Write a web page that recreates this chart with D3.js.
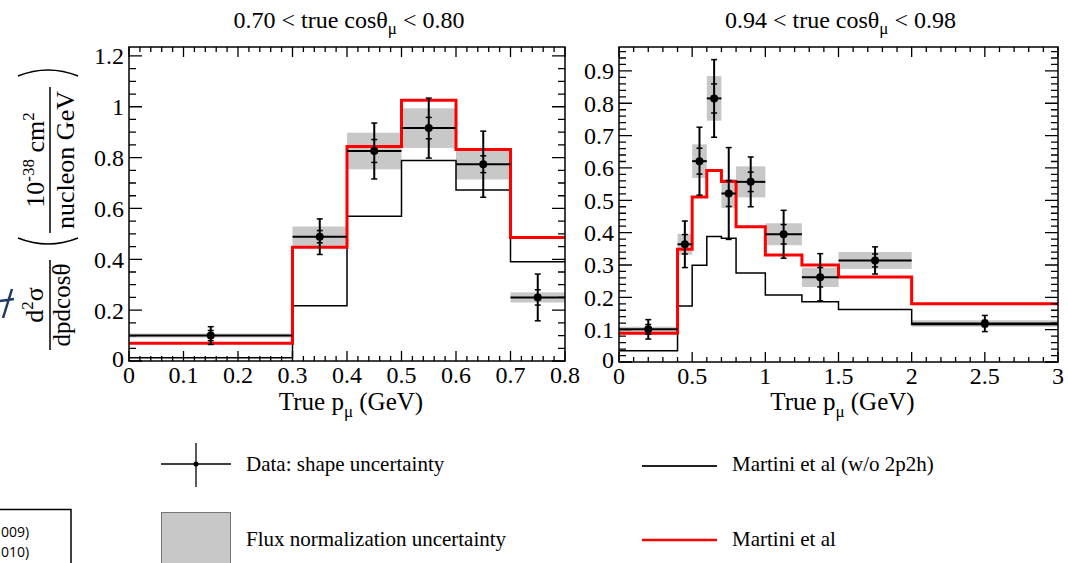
<!DOCTYPE html>
<meta charset="utf-8">
<style>
body { margin: 0; background: #fff; }
text { font-family: "Liberation Serif", "Times New Roman", serif; fill: #000; }
.frame { fill: none; stroke: #000; stroke-width: 1.5px; }
.tick { stroke: #000; stroke-width: 1.3px; }
.martini { fill: none; stroke: #ff0000; stroke-width: 3px; }
.no2p2h { fill: none; stroke: #000; stroke-width: 1.5px; }
.flux { fill: #c8c8c8; }
.err { stroke: #000; stroke-width: 2px; fill: none; }
</style>

<svg id="chart" width="1068" height="563"></svg>

<script src="https://d3js.org/d3.v7.min.js"></script>
<script>
// ---- left panel: 0.70 < cos < 0.80
var leftEdges    = [0, 0.3, 0.4, 0.5, 0.6, 0.7, 0.8];
var leftPoints   = [0.15, 0.35, 0.45, 0.55, 0.65, 0.75];
var leftData     = [0.100, 0.489, 0.826, 0.916, 0.774, 0.250];
var leftErr      = [0.035, 0.070, 0.110, 0.118, 0.130, 0.092];
var leftStatErr  = [0.020, 0.024, 0.045, 0.042, 0.033, 0.030];
var leftFlux     = [0.008, 0.040, 0.072, 0.078, 0.060, 0.020];
var leftMartini  = [0.070, 0.447, 0.844, 1.026, 0.832, 0.486];
var leftNo2p2h   = [0.013, 0.217, 0.569, 0.789, 0.673, 0.390];
var leftXTicks   = [0, 0.1, 0.2, 0.3, 0.4, 0.5, 0.6, 0.7, 0.8];
var leftYTicks   = [0, 0.2, 0.4, 0.6, 0.8, 1, 1.2];

// ---- right panel: 0.94 < cos < 0.98
var rightEdges   = [0, 0.4, 0.5, 0.6, 0.7, 0.8, 1.0, 1.25, 1.5, 2.0, 3.0];
var rightPoints  = [0.2, 0.45, 0.55, 0.65, 0.75, 0.9, 1.125, 1.375, 1.75, 2.5];
var rightData    = [0.101, 0.364, 0.621, 0.815, 0.521, 0.557, 0.395, 0.262, 0.314, 0.119];
var rightErr     = [0.030, 0.072, 0.105, 0.120, 0.142, 0.077, 0.074, 0.073, 0.042, 0.025];
var rightStatErr = [0.015, 0.030, 0.040, 0.045, 0.040, 0.030, 0.030, 0.030, 0.020, 0.010];
var rightFlux    = [0.008, 0.032, 0.052, 0.069, 0.045, 0.048, 0.034, 0.030, 0.026, 0.010];
var rightMartini = [0.089, 0.349, 0.510, 0.592, 0.558, 0.418, 0.331, 0.300, 0.263, 0.180];
var rightNo2p2h  = [0.035, 0.173, 0.299, 0.388, 0.383, 0.275, 0.207, 0.186, 0.162, 0.116];
var rightXTicks  = [0, 0.5, 1, 1.5, 2, 2.5, 3];
var rightYTicks  = [0, 0.1, 0.2, 0.3, 0.4, 0.5, 0.6, 0.7, 0.8, 0.9];

var legendItems = ["Data: shape uncertainty", "Flux normalization uncertainty",
                   "Martini et al (w/o 2p2h)", "Martini et al"];

var svg = d3.select("#chart");

var panels = [
  {id: "l", lo: "0.70", hi: "0.80", left: 129, right: 565, top: 47, bottom: 361,
   xDomain: [0, 0.8], yDomain: [0, 1.235], xMinor: 0.02, yMinor: 0.05,
   edges: leftEdges, points: leftPoints, data: leftData, err: leftErr, stat: leftStatErr,
   flux: leftFlux, martini: leftMartini, no2p2h: leftNo2p2h, xTicks: leftXTicks, yTicks: leftYTicks},
  {id: "r", lo: "0.94", hi: "0.98", left: 619, right: 1058, top: 47, bottom: 362,
   xDomain: [0, 3], yDomain: [0, 0.974], xMinor: 0.1, yMinor: 0.02,
   edges: rightEdges, points: rightPoints, data: rightData, err: rightErr, stat: rightStatErr,
   flux: rightFlux, martini: rightMartini, no2p2h: rightNo2p2h, xTicks: rightXTicks, yTicks: rightYTicks}
];

panels.forEach(drawPanel);

function drawPanel(p) {
  var x = d3.scaleLinear().domain(p.xDomain).range([p.left, p.right]),
      y = d3.scaleLinear().domain(p.yDomain).range([p.bottom, p.top]);

  var g = svg.append("g");

  g.append("clipPath").attr("id", "clip-" + p.id)
    .append("rect")
      .attr("x", p.left).attr("y", p.top)
      .attr("width", p.right - p.left).attr("height", p.bottom - p.top);

  var plot = g.append("g").attr("clip-path", "url(#clip-" + p.id + ")");

  var rows = p.points.map(function(c, i) {
    return {c: c, lo: p.edges[i], hi: p.edges[i + 1], v: p.data[i],
            err: p.err[i], stat: p.stat[i], flux: p.flux[i]};
  });

  // flux normalization bands
  plot.selectAll(".flux")
    .data(rows)
    .enter().append("rect")
      .attr("class", "flux")
      .attr("x", function(d) { return x(d.lo); })
      .attr("width", function(d) { return x(d.hi) - x(d.lo); })
      .attr("y", function(d) { return y(d.v + d.flux); })
      .attr("height", function(d) { return y(d.v - d.flux) - y(d.v + d.flux); });

  // model histograms
  var step = d3.line()
      .curve(d3.curveStepAfter)
      .x(function(d) { return x(d[0]); })
      .y(function(d) { return y(d[1]); });

  function histPoints(vals) {
    return p.edges.map(function(e, i) { return [e, vals[Math.min(i, vals.length - 1)]]; });
  }

  plot.append("path").attr("class", "no2p2h").attr("d", step(histPoints(p.no2p2h)));
  plot.append("path").attr("class", "martini").attr("d", step(histPoints(p.martini)));

  // data points with error bars
  var pts = plot.selectAll(".pt")
    .data(rows)
    .enter().append("g")
      .attr("class", "pt");

  pts.append("line").attr("class", "err")
      .attr("x1", function(d) { return x(d.lo); })
      .attr("x2", function(d) { return x(d.hi); })
      .attr("y1", function(d) { return y(d.v); })
      .attr("y2", function(d) { return y(d.v); });

  pts.append("line").attr("class", "err")
      .attr("x1", function(d) { return x(d.c); })
      .attr("x2", function(d) { return x(d.c); })
      .attr("y1", function(d) { return y(d.v - d.err); })
      .attr("y2", function(d) { return y(d.v + d.err); });

  // caps (outer = total, inner = stat)
  ["err", "stat"].forEach(function(k) {
    [-1, 1].forEach(function(s) {
      pts.append("line").attr("class", "err")
          .style("stroke-width", "1.5px")
          .attr("x1", function(d) { return x(d.c) - 3; })
          .attr("x2", function(d) { return x(d.c) + 3; })
          .attr("y1", function(d) { return y(d.v + s * d[k]); })
          .attr("y2", function(d) { return y(d.v + s * d[k]); });
    });
  });

  pts.append("circle")
      .attr("cx", function(d) { return x(d.c); })
      .attr("cy", function(d) { return y(d.v); })
      .attr("r", 4);

  // frame
  g.append("rect").attr("class", "frame")
      .attr("x", p.left).attr("y", p.top)
      .attr("width", p.right - p.left).attr("height", p.bottom - p.top);

  // inward ticks on all four sides
  var xMinor = d3.range(0, Math.round((p.xDomain[1] - p.xDomain[0]) / p.xMinor) + 1)
      .map(function(i) { return p.xDomain[0] + i * p.xMinor; });
  var yMinor = d3.range(0, Math.floor(p.yDomain[1] / p.yMinor + 1e-6) + 1)
      .map(function(i) { return i * p.yMinor; });

  function isMajor(v, list) {
    return list.some(function(t) { return Math.abs(t - v) < 1e-6; });
  }

  g.selectAll(".xt")
    .data(xMinor)
    .enter().append("path")
      .attr("class", "tick")
      .attr("d", function(d) {
        var L = isMajor(d, p.xTicks) ? 10 : 5, px = x(d);
        return "M" + px + "," + p.bottom + "v" + (-L) + "M" + px + "," + p.top + "v" + L;
      });

  g.selectAll(".yt")
    .data(yMinor.filter(function(d) { return y(d) >= p.top - 0.5 && y(d) <= p.bottom + 0.5; }))
    .enter().append("path")
      .attr("class", "tick")
      .attr("d", function(d) {
        var L = isMajor(d, p.yTicks) ? 13 : 7, py = y(d);
        return "M" + p.left + "," + py + "h" + L + "M" + p.right + "," + py + "h" + (-L);
      });

  // tick labels
  g.selectAll(".xl")
    .data(p.xTicks)
    .enter().append("text")
      .attr("x", function(d) { return x(d); })
      .attr("y", p.bottom + 22)
      .attr("text-anchor", "middle")
      .style("font-size", "24px")
      .text(function(d) { return String(d); });

  g.selectAll(".yl")
    .data(p.yTicks)
    .enter().append("text")
      .attr("x", p.left - 5)
      .attr("y", function(d) { return Math.min(y(d), p.bottom - 2); })
      .attr("dy", "0.35em")
      .attr("text-anchor", "end")
      .style("font-size", "24px")
      .text(function(d) { return String(d); });

  // panel title
  var cx = (p.left + p.right) / 2 + 2;
  var t = g.append("text")
      .attr("x", cx).attr("y", 28)
      .attr("text-anchor", "middle")
      .style("font-size", "24px");
  t.append("tspan").text(p.lo + " < true cos\u03b8");
  t.append("tspan").attr("dy", 6).style("font-size", "17px").text("\u03bc");
  t.append("tspan").attr("dy", -6).text(" < " + p.hi);

  // x axis title
  var xt = g.append("text")
      .attr("x", cx + 2).attr("y", 410)
      .attr("text-anchor", "middle")
      .style("font-size", "25px");
  xt.append("tspan").text("True p");
  xt.append("tspan").attr("dy", 7).style("font-size", "17px").text("\u03bc");
  xt.append("tspan").attr("dy", -7).text(" (GeV)");
}

// ---- y axis title (rotated fractions)
var yt = svg.append("g");

var f1 = yt.append("g").attr("transform", "translate(50,305) rotate(-90)");
var n1 = f1.append("text").attr("x", 0).attr("y", -7).attr("text-anchor", "middle").style("font-size", "26px");
n1.append("tspan").text("d");
n1.append("tspan").attr("dy", -10).style("font-size", "17px").text("2");
n1.append("tspan").attr("dy", 10).text("\u03c3");
f1.append("text").attr("x", 0).attr("y", 20).attr("text-anchor", "middle").style("font-size", "25px")
    .text("dpdcos\u03b8");
f1.append("line").attr("x1", -45).attr("x2", 45).attr("y1", 0).attr("y2", 0)
    .style("stroke", "#000").style("stroke-width", 1.5);

var f2 = yt.append("g").attr("transform", "translate(50,160) rotate(-90)");
var n2 = f2.append("text").attr("x", 0).attr("y", -6).attr("text-anchor", "middle").style("font-size", "26px");
n2.append("tspan").text("10");
n2.append("tspan").attr("dy", -10).style("font-size", "17px").text("-38");
n2.append("tspan").attr("dy", 10).text(" cm");
n2.append("tspan").attr("dy", -10).style("font-size", "17px").text("2");
f2.append("text").attr("x", 0).attr("y", 24).attr("text-anchor", "middle").style("font-size", "26px")
    .text("nucleon GeV");
f2.append("line").attr("x1", -73).attr("x2", 73).attr("y1", 0).attr("y2", 0)
    .style("stroke", "#000").style("stroke-width", 1.5);
// big parentheses
f2.append("path")
    .attr("d", "M-78,-32 Q-90,-2 -78,28")
    .style("fill", "none").style("stroke", "#000").style("stroke-width", 1.6);
f2.append("path")
    .attr("d", "M84,-32 Q96,-2 84,28")
    .style("fill", "none").style("stroke", "#000").style("stroke-width", 1.6);

// ---- legend
var leg = svg.append("g");
leg.append("line").attr("x1", 161).attr("x2", 231).attr("y1", 464).attr("y2", 464)
    .style("stroke", "#000").style("stroke-width", 1.3);
leg.append("line").attr("x1", 196).attr("x2", 196).attr("y1", 443).attr("y2", 487)
    .style("stroke", "#000").style("stroke-width", 1.3);
leg.append("circle").attr("cx", 196).attr("cy", 464).attr("r", 2.5);
leg.append("rect").attr("x", 161.5).attr("y", 512.5).attr("width", 69).attr("height", 60)
    .style("fill", "#c8c8c8").style("stroke", "#777").style("stroke-width", 1);
leg.append("line").attr("x1", 642).attr("x2", 717).attr("y1", 466).attr("y2", 466)
    .style("stroke", "#222").style("stroke-width", 2);
leg.append("line").attr("x1", 642).attr("x2", 717).attr("y1", 540).attr("y2", 540)
    .style("stroke", "#ff0000").style("stroke-width", 2.5);

leg.selectAll(".lt")
  .data(legendItems)
  .enter().append("text")
    .attr("x", function(d, i) { return i < 2 ? 246 : 732; })
    .attr("y", function(d, i) { return i % 2 === 0 ? 471 : 546; })
    .style("font-size", "21px")
    .text(function(d) { return d; });

// ---- bits of the surrounding slide
svg.append("path")
    .attr("d", "M12,289 L3,318 M0,301 L14,299")
    .style("stroke", "#1f3864").style("stroke-width", 2.5).style("fill", "none");
svg.append("rect").attr("x", -2).attr("y", 509.5).attr("width", 73).attr("height", 60)
    .style("fill", "none").style("stroke", "#000").style("stroke-width", 1.5);
svg.selectAll(".ref")
  .data(["009)", "010)"])
  .enter().append("text")
    .attr("x", 1).attr("y", function(d, i) { return 537 + i * 20; })
    .style("font-family", "'Open Sans', 'Liberation Sans', sans-serif")
    .style("font-size", "14px")
    .text(function(d) { return d; });
</script>
